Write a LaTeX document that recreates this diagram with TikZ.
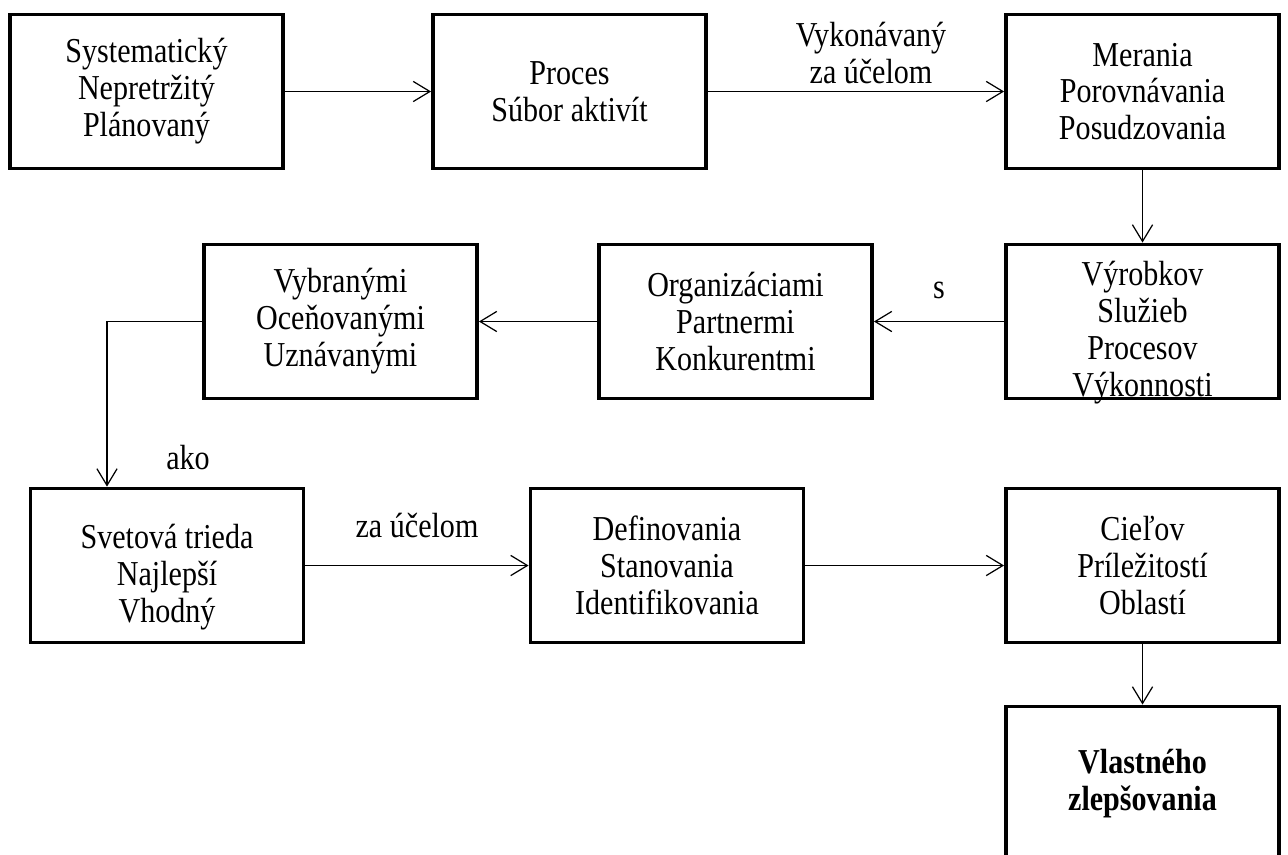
\documentclass[tikz,border=0pt]{standalone}
\usepackage{fontspec}
\setmainfont{Liberation Serif}[FakeStretch=0.86]
\usepackage{tikz}
\usetikzlibrary{positioning,calc,arrows.meta}

\begin{document}
\begin{tikzpicture}[
    box/.style={rectangle,draw,line width=2.2pt,minimum width=5.46cm,minimum height=3.08cm,align=center,font=\fontsize{19.9}{21}\selectfont},
    txt/.style={align=center,font=\fontsize{19.9}{21}\selectfont},
    lbl/.style={txt,inner sep=4pt},
    arrow/.style={-{Straight Barb[length=9.5pt,width=11.5pt]},line width=0.7pt}]

\useasboundingbox (0,0) rectangle (25.76,-17.08);
\clip (0,0) rectangle (25.76,-17.08);

% Prvy riadok
\node[box] (syst) at (2.93,-1.83) {Systematický\\Nepretržitý\\Plánovaný};
\node[box] (proces) at (11.39,-1.83) {Proces\\Súbor aktivít};
\node[box] (merania) at (22.85,-1.83) {Merania\\Porovnávania\\Posudzovania};

% Druhy riadok
\node[box] (vyrobky) at (22.85,-6.43) {};
\node[txt] at ([yshift=-0.22cm]vyrobky.center) {Výrobkov\\Služieb\\Procesov\\Výkonnosti};
\node[box] (organiz) at (14.71,-6.43) {Organizáciami\\Partnermi\\Konkurentmi};
\node[box] (vybrane) at (6.81,-6.43) {Vybranými\\Oceňovanými\\Uznávanými};

% Treti riadok
\node[box] (svetova) at (3.34,-11.31) {};
\node[txt] at ([yshift=-0.24cm]svetova.center) {Svetová trieda\\Najlepší\\Vhodný};
\node[box] (defin) at (13.34,-11.31) {Definovania\\Stanovania\\Identifikovania};
\node[box] (ciele) at (22.85,-11.31) {Cieľov\\Príležitostí\\Oblastí};
\node[box,font=\fontsize{19.9}{21}\selectfont\bfseries] (vlastne) at (22.85,-15.67) {Vlastného\\zlepšovania};

\coordinate (ohyb) at (2.14,-6.43);
\node[txt] (ako) at (3.76,-9.16) {ako};

\draw[arrow] (syst) -- (proces);
\draw[arrow] (proces) -- (merania) node[midway,above,xshift=0.3cm,lbl] {Vykonávaný\\za účelom};
\draw[arrow] (merania) -- (vyrobky);
\draw[arrow] (vyrobky) -- (organiz) node[midway,above=0.3cm,lbl] {s};
\draw[arrow] (organiz) -- (vybrane);
\draw[arrow] (vybrane.west) -- (ohyb) -- (ohyb |- svetova.north);
\draw[arrow] (svetova) -- (defin) node[midway,above=0.4cm,lbl] {za účelom};
\draw[arrow] (defin) -- (ciele);
\draw[arrow] (ciele) -- (vlastne);

\end{tikzpicture}
\end{document}
